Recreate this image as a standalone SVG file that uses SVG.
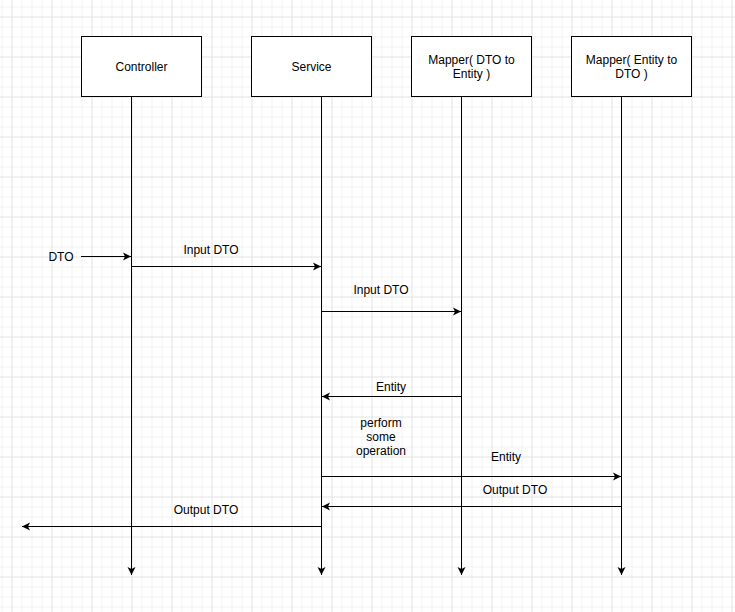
<svg xmlns="http://www.w3.org/2000/svg" width="735" height="612" viewBox="0 0 735 612">
<defs>
<pattern id="grid" width="40" height="40" patternUnits="userSpaceOnUse" x="11.5" y="16.5">
<path d="M10.5 0V40M20.5 0V40M30.5 0V40M0 10.5H40M0 20.5H40M0 30.5H40" stroke="#f2f2f2" stroke-width="1" fill="none"/>
<path d="M0.5 0V40M0 0.5H40" stroke="#e2e2e2" stroke-width="1" fill="none"/>
</pattern>
<marker id="arr" markerUnits="userSpaceOnUse" markerWidth="10" markerHeight="10" refX="8" refY="4" orient="auto" overflow="visible">
<path d="M0 0 L8 4 L0 8 L2 4 Z" fill="#000"/>
</marker>
<style>
text{font-family:"Liberation Sans",Arial,sans-serif;font-size:12px;fill:#000;text-anchor:middle}
.box{fill:#fff;stroke:#000;stroke-width:1}
.ln{stroke:#000;stroke-width:1;fill:none;marker-end:url(#arr)}
</style>
</defs>
<rect width="735" height="612" fill="#fff"/>
<rect width="735" height="612" fill="url(#grid)"/>
<g id="connectors">
<path class="ln" d="M131.5 97V575"/>
<path class="ln" d="M321.5 97V575"/>
<path class="ln" d="M461.5 97V575"/>
<path class="ln" d="M621.5 97V575"/>
<path class="ln" d="M81 256.5H131"/>
<path class="ln" d="M131.5 266.5H321"/>
<path class="ln" d="M321.5 311.5H461"/>
<path class="ln" d="M461.5 396.5H322"/>
<path class="ln" d="M321.5 476.5H621"/>
<path class="ln" d="M621.5 506.5H322"/>
<path class="ln" d="M321.5 526.5H22"/>
</g>
<g id="controller"><rect class="box" x="81.5" y="36.5" width="120" height="60"/><text x="141.5" y="71">Controller</text></g>
<g id="service"><rect class="box" x="251.5" y="36.5" width="120" height="60"/><text x="311.5" y="71">Service</text></g>
<g id="mapper1"><rect class="box" x="411.5" y="36.5" width="120" height="60"/><text x="471.5" y="64">Mapper( DTO to</text><text x="471.5" y="78">Entity )</text></g>
<g id="mapper2"><rect class="box" x="571.5" y="36.5" width="120" height="60"/><text x="631.5" y="64">Mapper( Entity to</text><text x="631.5" y="78">DTO )</text></g>
<g id="labels">
<text x="61" y="261">DTO</text>
<text x="211" y="254">Input DTO</text>
<text x="381" y="294">Input DTO</text>
<text x="391" y="391">Entity</text>
<text x="381" y="427">perform</text>
<text x="381" y="441">some</text>
<text x="381" y="455">operation</text>
<text x="506" y="461">Entity</text>
<text x="515" y="494">Output DTO</text>
<text x="206" y="514">Output DTO</text>
</g>
</svg>
